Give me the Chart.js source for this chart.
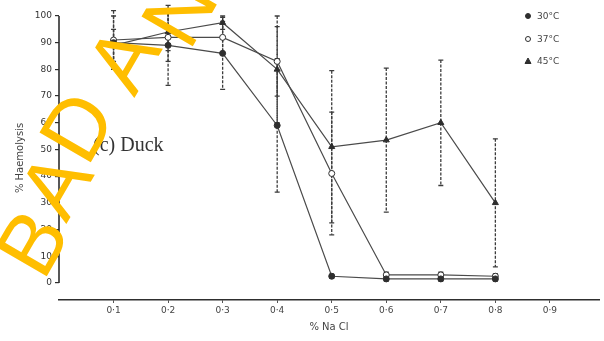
<!DOCTYPE html>
<html>
<head>
<meta charset="utf-8">
<script src="https://cdn.jsdelivr.net/npm/chart.js@4.4.0/dist/chart.umd.min.js"></script>
<style>
  html, body { margin: 0; padding: 0; background: #fff; }
  #wrap { width: 604px; height: 341px; position: relative; }
</style>
</head>
<body>
<div id="wrap"><canvas id="chart"></canvas></div>
<script>
// % NaCl and % haemolysis of duck red cells
const naclLevels = [0.1, 0.2, 0.3, 0.4, 0.5, 0.6, 0.7, 0.8];
const xTickValues = [0.1, 0.2, 0.3, 0.4, 0.5, 0.6, 0.7, 0.8, 0.9];
const xTickLabels = ['0·1', '0·2', '0·3', '0·4', '0·5', '0·6', '0·7', '0·8', '0·9'];
const yTickValues = [0, 10, 20, 30, 40, 50, 60, 70, 80, 90, 100];

const haem30 = [90, 89, 86, 59, 2.5, 1.5, 1.5, 1.5];
const haem37 = [91, 92, 92, 83, 41, 3, 3, 2.5];
const haem45 = [89, 94, 97.5, 80, 51, 53.5, 60, 30];

// +/- spread of each point (error bars)
const err30 = [10, 15, 13.5, 25, 0.8, 0.8, 0.8, 0.8];
const err37 = [11, 9, 6, 13, 23, 1, 1, 1];
const err45 = [6, 7, 2.5, 20, 28.5, 27, 23.5, 24];

const seriesNames = ['30°C', '37°C', '45°C'];

// scanned watermark letters (centre x, centre y) - decoration only
const stampLetters = [['B', 31, 242], ['A', 54, 184], ['D', 76, 126], ['A', 122, 58], ['N', 178, 10]];

function toPoints(vals) {
  return vals.map((v, i) => ({ x: naclLevels[i], y: v }));
}

const ink = '#2e2e2e';

const errorBars = {
  id: 'errorBars',
  beforeDatasetsDraw(chart) {
    const ctx = chart.ctx;
    const xs = chart.scales.x, ys = chart.scales.y;
    ctx.save();
    ctx.strokeStyle = '#3c3c3c';
    ctx.lineWidth = 1.3;
    chart.data.datasets.forEach(ds => {
      ds.errors.forEach((e, i) => {
        const p = ds.data[i];
        const px = xs.getPixelForValue(p.x);
        const top = ys.getPixelForValue(p.y + e);
        const bot = ys.getPixelForValue(p.y - e);
        ctx.setLineDash([3, 1.5]);
        ctx.beginPath();
        ctx.moveTo(px, top);
        ctx.lineTo(px, bot);
        ctx.stroke();
        ctx.setLineDash([]);
        ctx.beginPath();
        ctx.moveTo(px - 2.5, top); ctx.lineTo(px + 2.5, top);
        ctx.moveTo(px - 2.5, bot); ctx.lineTo(px + 2.5, bot);
        ctx.stroke();
      });
    });
    ctx.restore();
  }
};

const extras = {
  id: 'extras',
  beforeDraw(chart) {
    // y axis line only from 0 to 100
    const ctx = chart.ctx;
    const ys = chart.scales.y;
    const x0 = chart.chartArea.left;
    ctx.save();
    ctx.strokeStyle = ink;
    ctx.lineWidth = 1.6;
    ctx.beginPath();
    ctx.moveTo(x0, ys.getPixelForValue(100));
    ctx.lineTo(x0, ys.getPixelForValue(0));
    ctx.stroke();
    ctx.restore();
  },
  afterDraw(chart) {
    const ctx = chart.ctx;
    ctx.save();
    // panel label
    ctx.fillStyle = '#333';
    ctx.font = '20px "Liberation Serif"';
    ctx.textBaseline = 'middle';
    ctx.fillText('(c) Duck', 93, 146);

    // legend, top right
    const rows = [16, 39, 61];
    const mx = 528;
    ctx.font = '9px "DejaVu Sans"';
    seriesNames.forEach((name, i) => {
      const ds = chart.data.datasets[i];
      ctx.strokeStyle = ink;
      ctx.lineWidth = 1;
      ctx.fillStyle = ds.pointBackgroundColor;
      ctx.beginPath();
      if (ds.pointStyle === 'triangle') {
        ctx.moveTo(mx, rows[i] - 3);
        ctx.lineTo(mx + 3, rows[i] + 2.5);
        ctx.lineTo(mx - 3, rows[i] + 2.5);
        ctx.closePath();
      } else {
        ctx.arc(mx, rows[i], 2.5, 0, Math.PI * 2);
      }
      ctx.fill();
      ctx.stroke();
      ctx.fillStyle = '#444';
      ctx.fillText(name, mx + 9, rows[i] + 1);
    });
    ctx.restore();

    // yellow repository watermark
    ctx.save();
    ctx.font = '86px "Liberation Sans"';
    ctx.fillStyle = '#FFBE00';
    ctx.textAlign = 'center';
    ctx.textBaseline = 'alphabetic';
    stampLetters.forEach(([ch, cx, cy]) => {
      ctx.save();
      ctx.translate(cx, cy);
      ctx.rotate(-60 * Math.PI / 180);
      ctx.fillText(ch, 0, 86 * 0.358);
      ctx.restore();
    });
    ctx.restore();
  }
};

function makeSet(label, vals, errs, style, fill) {
  return {
    label: label,
    data: toPoints(vals),
    errors: errs,
    borderColor: '#4a4a4a',
    borderWidth: 1.2,
    pointStyle: style,
    pointRadius: style === 'triangle' ? 3.5 : 3,
    pointBackgroundColor: fill,
    pointBorderColor: ink,
    pointBorderWidth: 1,
    tension: 0,
    fill: false
  };
}

new Chart(document.getElementById('chart'), {
  type: 'line',
  data: {
    datasets: [
      makeSet(seriesNames[0], haem30, err30, 'circle', ink),
      makeSet(seriesNames[1], haem37, err37, 'circle', '#ffffff'),
      makeSet(seriesNames[2], haem45, err45, 'triangle', ink)
    ]
  },
  options: {
    responsive: true,
    maintainAspectRatio: false,
    animation: false,
    devicePixelRatio: 1,
    layout: { padding: { top: 16, right: 1, left: 0, bottom: 0 } },
    plugins: {
      legend: { display: false },
      tooltip: { enabled: false }
    },
    scales: {
      x: {
        type: 'linear',
        min: 0,
        max: 0.99,
        afterBuildTicks: s => { s.ticks = xTickValues.map(v => ({ value: v })); },
        afterFit: s => { s.height = 41; },
        ticks: {
          callback: (v, i) => xTickLabels[i],
          font: { family: 'DejaVu Sans', size: 9 },
          color: '#444',
          padding: 2,
          maxRotation: 0
        },
        grid: { drawOnChartArea: false, tickLength: 3, color: '#555' },
        border: { display: true, color: ink, width: 1.4 },
        title: {
          display: true,
          text: '% Na Cl',
          font: { family: 'DejaVu Sans', size: 10 },
          color: '#444',
          padding: { top: 0, bottom: 8 }
        }
      },
      y: {
        min: -6.4,
        max: 100,
        afterBuildTicks: s => { s.ticks = yTickValues.map(v => ({ value: v })); },
        afterFit: s => { s.width = 59; },
        ticks: {
          font: { family: 'DejaVu Sans', size: 9 },
          color: '#333',
          padding: 3
        },
        grid: { drawOnChartArea: false, tickLength: 4, color: ink, lineWidth: 1.2 },
        border: { display: false },
        title: {
          display: true,
          text: '% Haemolysis',
          font: { family: 'DejaVu Sans', size: 10 },
          color: '#444',
          padding: { top: 14, bottom: 0 }
        }
      }
    }
  },
  plugins: [errorBars, extras]
});
</script>
</body>
</html>
